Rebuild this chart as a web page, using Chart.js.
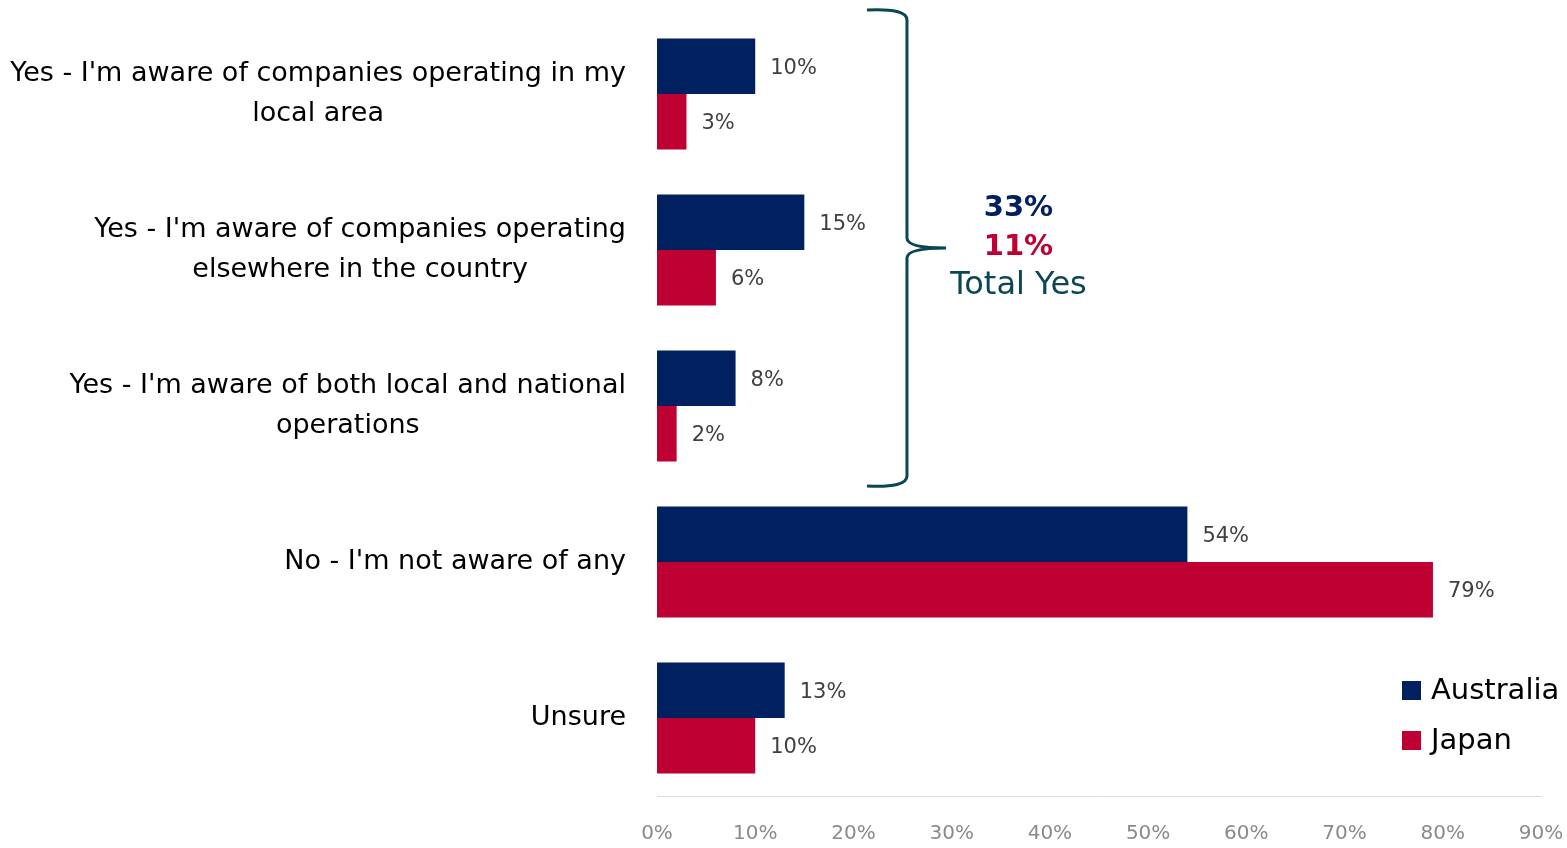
<!DOCTYPE html>
<html>
<head>
<meta charset="utf-8">
<script src="https://cdn.jsdelivr.net/npm/chart.js@4/dist/chart.umd.min.js"></script>
<style>
html,body{margin:0;padding:0;background:#fff;}
#wrap{width:1567px;height:848px;position:relative;}
</style>
</head>
<body>
<div id="wrap"><canvas id="c" width="1567" height="848"></canvas></div>
<script>
const categories = [
  ["Yes - I'm aware of companies operating in my", "local area"],
  ["Yes - I'm aware of companies operating", "elsewhere in the country"],
  ["Yes - I'm aware of both local and national", "operations"],
  ["No - I'm not aware of any"],
  ["Unsure"]
];
const australia = [10, 15, 8, 54, 13];
const japan = [3, 6, 2, 79, 10];
const seriesNames = ["Australia", "Japan"];
const xTicks = [0, 10, 20, 30, 40, 50, 60, 70, 80, 90];
const totalYes = ["33%", "11%", "Total Yes"];

const NAVY = '#002060';
const RED = '#BE0032';
const TEAL = '#0B4753';
const FONT = "'DejaVu Sans', sans-serif";

const labelsPlugin = {
  id: 'custom',
  afterDatasetsDraw(chart) {
    const ctx = chart.ctx;
    const x = chart.scales.x, y = chart.scales.y;
    ctx.save();
    // data labels
    ctx.font = '21px ' + FONT;
    ctx.fillStyle = '#404040';
    ctx.textAlign = 'left';
    ctx.textBaseline = 'middle';
    chart.data.datasets.forEach((ds, di) => {
      const meta = chart.getDatasetMeta(di);
      meta.data.forEach((bar, i) => {
        ctx.fillText(ds.data[i] + '%', bar.x + 15, bar.y + 2);
      });
    });
    // category labels
    ctx.font = '27px ' + FONT;
    ctx.fillStyle = '#000';
    ctx.textAlign = 'center';
    categories.forEach((lines, i) => {
      const cy = y.getPixelForValue(i);
      let w = 0;
      lines.forEach(l => { w = Math.max(w, ctx.measureText(l).width); });
      const right = x.left - 31;
      const cx = right - w / 2;
      const lh = 40;
      lines.forEach((l, k) => {
        ctx.fillText(l, cx, cy - (lines.length - 1) * lh / 2 + k * lh);
      });
    });
    // brace
    const bx = x.getPixelForValue(25.45);
    const top = y.getPixelForValue(0) - 84;
    const bot = y.getPixelForValue(2) + 80;
    const mid = (top + bot) / 2;
    ctx.strokeStyle = TEAL;
    ctx.lineWidth = 3;
    ctx.lineJoin = 'round';
    ctx.beginPath();
    ctx.moveTo(bx - 40, top);
    ctx.quadraticCurveTo(bx, top - 2, bx, top + 10);
    ctx.lineTo(bx, mid - 10);
    ctx.quadraticCurveTo(bx, mid, bx + 39, mid);
    ctx.moveTo(bx + 39, mid);
    ctx.quadraticCurveTo(bx, mid, bx, mid + 10);
    ctx.lineTo(bx, bot - 10);
    ctx.quadraticCurveTo(bx, bot + 2, bx - 40, bot);
    ctx.stroke();
    // total yes text
    const tx = x.getPixelForValue(36.8);
    ctx.textAlign = 'center';
    ctx.textBaseline = 'middle';
    ctx.font = 'bold 29px ' + FONT;
    ctx.fillStyle = NAVY;
    ctx.fillText(totalYes[0], tx, mid - 40);
    ctx.fillStyle = RED;
    ctx.fillText(totalYes[1], tx, mid - 1);
    ctx.font = '32px ' + FONT;
    ctx.fillStyle = TEAL;
    ctx.fillText(totalYes[2], tx, mid + 38);
    // legend
    ctx.font = '29px ' + FONT;
    ctx.textAlign = 'left';
    const lx = 1402, ly0 = y.getPixelForValue(4) - 28;
    chart.data.datasets.forEach((ds, di) => {
      const ly = ly0 + di * 50;
      ctx.fillStyle = ds.backgroundColor;
      ctx.fillRect(lx, ly - 9, 19, 19);
      ctx.fillStyle = '#000';
      ctx.fillText(ds.label, lx + 29, ly + 1);
    });
    ctx.restore();
  }
};

new Chart(document.getElementById('c'), {
  type: 'bar',
  data: {
    labels: categories.map(c => c.join(' ')),
    datasets: [
      { label: seriesNames[0], data: australia, backgroundColor: NAVY },
      { label: seriesNames[1], data: japan, backgroundColor: RED }
    ]
  },
  options: {
    indexAxis: 'y',
    responsive: false,
    animation: false,
    layout: { padding: { left: 657, right: 26, top: 16, bottom: 0 } },
    datasets: { bar: { barPercentage: 1, categoryPercentage: 0.712 } },
    plugins: { legend: { display: false }, tooltip: { enabled: false } },
    scales: {
      x: {
        min: 0, max: 90,
        afterBuildTicks(s) { s.ticks = xTicks.map(v => ({ value: v })); },
        grid: { display: false, drawTicks: false },
        border: { display: true, color: '#d9d9d9', width: 1 },
        ticks: { color: '#8a8a8a', font: { family: FONT, size: 20 }, padding: 26, callback: v => v + '%', maxRotation: 0 },
        afterFit(s) { s.height = 52; s.paddingLeft = 0; s.paddingRight = 0; }
      },
      y: {
        grid: { display: false, drawTicks: false },
        border: { display: false },
        ticks: { display: false },
        afterFit(s) { s.width = 0; s.paddingTop = 0; s.paddingBottom = 0; }
      }
    }
  },
  plugins: [labelsPlugin]
});
</script>
</body>
</html>
